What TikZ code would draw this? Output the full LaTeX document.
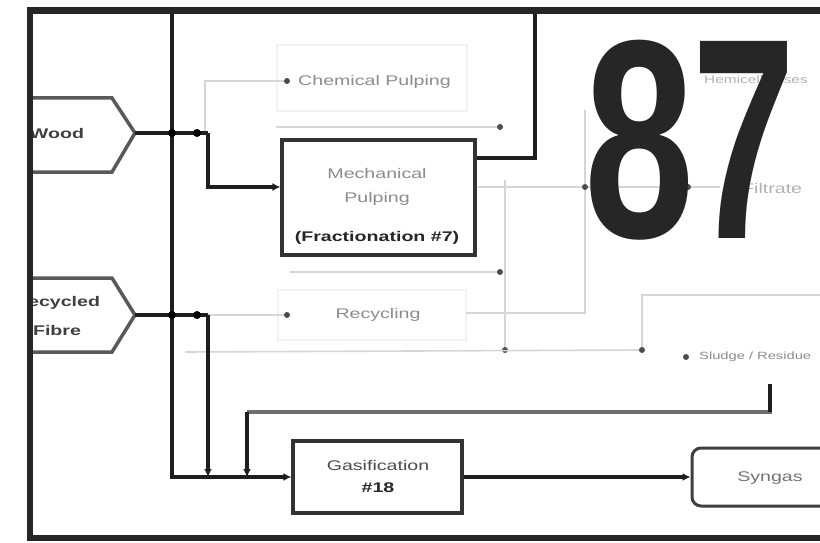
\documentclass[tikz,border=0pt]{standalone}
\usepackage{fontspec}
\usepackage{graphicx}
\setmainfont{Liberation Sans}
\newfontfamily\wf[FakeStretch=1.4]{Liberation Sans}
\usetikzlibrary{arrows.meta,calc}
\definecolor{framec}{HTML}{262626}
\definecolor{faint}{HTML}{D6D6D6}
\definecolor{gtxt}{HTML}{8C8C8C}
\definecolor{dkline}{HTML}{1E1E1E}
\definecolor{mdline}{HTML}{6E6E6E}
\begin{document}
\begin{tikzpicture}[x=1pt,y=-1pt,
  lbl/.style={inner sep=0pt, font=\wf\fontsize{14}{17}\selectfont},
  glbl/.style={lbl, text=gtxt},
  blbl/.style={lbl, font=\wf\bfseries\fontsize{14}{17}\selectfont, text=framec},
  box/.style={draw=black!80, line width=3.2pt, inner sep=0pt},
  rbox/.style={draw=black!75, line width=3pt, rounded corners=9pt, inner sep=0pt},
  fbox/.style={draw=black!5, line width=1.2pt, inner sep=0pt},
  pent/.style={draw=black!65, line width=3.5pt, line join=miter},
  dk/.style={draw=dkline, line width=3.5pt},
  md/.style={draw=mdline, line width=4pt},
  fl/.style={draw=faint, line width=1.6pt},
  arr/.style={-{Latex[length=8pt,width=8pt]}},
  jdot/.style={circle, fill=black, inner sep=0pt, minimum size=8pt},
  fdot/.style={circle, fill=black!70, inner sep=0pt, minimum size=6pt},
  big/.style={inner sep=0pt, text=framec}
]
\useasboundingbox (0,0) rectangle (820,543);
\fill[white] (0,0) rectangle (820,543);
\begin{scope}
\clip (33,14) rectangle (820,535);

% faint background boxes
\node[fbox, minimum width=190pt, minimum height=66pt] (chembox) at (372,78) {};
\node[fbox, minimum width=188pt, minimum height=50pt] (recbox) at (372,315) {};

% faint connectors
\coordinate (fw) at (205,133);
\node[fdot] (chemdot) at (287,81) {};
\draw[fl] (fw) |- (chemdot);
\node[glbl, anchor=west] (chem) at (298,82) {Chemical Pulping};

\node[fdot] (d1) at (500,127) {};
\draw[fl] (chembox.south west |- d1) -- (d1);
\node[fdot] (d2) at (585,187) {};
\node[fdot] (d3) at (688,187) {};
\coordinate (f1) at (478,187);
\draw[fl] (f1) -- (d2) -- (d3) -- (720,187);
\coordinate (f2) at (585,110);
\coordinate (f3) at (466,313);
\draw[fl] (f2) -- (d2);
\draw[fl] (d2) |- (f3);
\node[fdot] (d4) at (500,272) {};
\coordinate (f4) at (290,272);
\draw[fl] (f4) -- (d4);
\coordinate (f5) at (505,180);
\node[fdot] (d5) at (505,350) {};
\draw[fl] (f5) -- (d5);
\coordinate (f6) at (185,352);
\node[fdot] (d6) at (642,350) {};
\draw[fl] (f6) -- (d6);
\coordinate (f7) at (820,295);
\draw[fl] (d6) |- (f7);
\node[fdot] (d7) at (686,357) {};
\node[glbl, anchor=west, font=\wf\fontsize{10.5}{13}\selectfont] (sludge) at (699,357) {Sludge / Residue};
\node[fdot] (recdot) at (287,315) {};
\node[glbl] (recyc) at (378,315) {Recycling};
\coordinate (fr) at (197,315);
\draw[fl] (fr) -- (recdot);

\node[glbl, anchor=west, text=black!30, font=\wf\fontsize{11}{13}\selectfont] (hemi) at (704,80) {Hemicelluloses};
\node[glbl, anchor=west, text=black!30] (filt) at (742,188) {Filtrate};

% input pentagons
\draw[pent] (-40,98) -- (112,98) -- (135,133) -- (112,172) -- (-40,172);
\node[blbl, text=black!75] (wood) at (57,133) {Wood};
\coordinate (woodtip) at (135,133);
\draw[pent] (-40,278) -- (112,278) -- (135,315) -- (112,352) -- (-40,352);
\node[blbl, text=black!75, align=center, font=\wf\bfseries\fontsize{14}{29}\selectfont] (recf) at (57,316) {Recycled\\Fibre};
\coordinate (rectip) at (135,315);

% boxes
\node[box, minimum width=193pt, minimum height=115pt] (mech) at (378.5,197.5) {};
\node[glbl] (mech1) at (377,173) {Mechanical};
\node[glbl] (mech2) at (377,199) {Pulping};
\node[blbl] (mech3) at (377,238) {(Fractionation \#7)};

\node[box, minimum width=169pt, minimum height=72pt] (gas) at (377.5,477) {};
\node[lbl, text=black!70] (gas1) at (378,465) {Gasification};
\node[blbl] (gas2) at (378,488) {\#18};

\node[rbox, minimum width=160pt, minimum height=58pt] (syn) at (772,477) {};
\node[glbl, text=black!55] (syn1) at (770,478) {Syngas};

% main connectors
\coordinate (top172) at (172,0);
\draw[dk, arr] (top172) |- (gas.west);
\coordinate (jw) at (208,133);
\coordinate (m187) at (0,187);
\draw[dk] (woodtip) -- (jw);
\draw[dk, arr] (jw) |- (mech.west |- m187);
\coordinate (jr) at (208,315);
\draw[dk] (rectip) -- (jr);
\draw[dk, arr] (jr) -- (jr |- gas.west);
\coordinate (sl) at (770,384);
\coordinate (rb) at (247,412);
\draw[md] (sl) |- (rb);
\draw[dk, arr] (rb) -- (rb |- gas.west);
\draw[dk] (sl) -- ($(sl)+(0,28)$);
\coordinate (m158) at (0,158);
\coordinate (top535) at (535,0);
\draw[dk] (mech.east |- m158) -| (top535);
\draw[dk, arr] (gas.east) -- (syn.west);

\node[jdot] (j1) at (172,133) {};
\node[jdot] (j2) at (197,133) {};
\node[jdot] (j3) at (172,315) {};
\node[jdot] (j4) at (197,315) {};

% big number
\node[big] (eight) at (640,140) {\resizebox{110pt}{197pt}{\bfseries 8}};
\node[big] (seven) at (744,140) {\resizebox{103pt}{197pt}{\bfseries 7}};
\end{scope}

% frame
\draw[framec, line width=6.5pt] (30,10.5) rectangle (860,538);
\end{tikzpicture}
\end{document}
